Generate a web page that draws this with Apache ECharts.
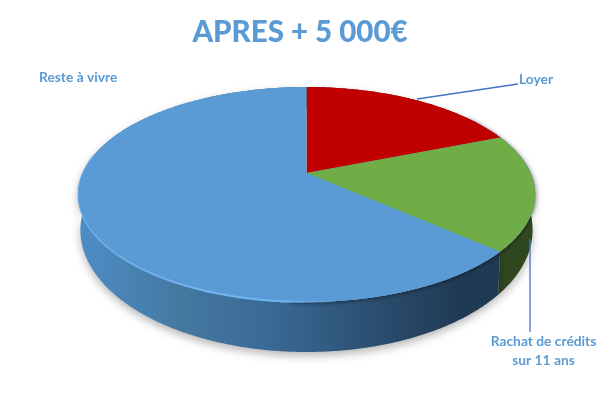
<!DOCTYPE html>
<html><head><meta charset="utf-8">
<style>html,body{margin:0;padding:0;background:#fff}#c{width:600px;height:400px}</style>
<script src="https://cdn.jsdelivr.net/npm/echarts@6/dist/echarts.min.js"></script>
</head><body><div id="c"></div>
<script>
const categories = ['Loyer', 'Rachat de crédits\nsur 11 ans', 'Reste à vivre'];
const values = [19, 17.5, 63.5];
const topColors = ['#c00000', '#70ad47', '#5b9bd5'];
const titleText = 'APRES + 5 000€';

const LG = echarts.graphic.LinearGradient;
const wallFills = [
  '#7a0000',
  new LG(430, 0, 535, 0, [{offset:0,color:'#2b4220'},{offset:1,color:'#30481f'}], true),
  new LG(78, 0, 500, 0, [
    {offset:0,color:'#4e8dc6'},{offset:0.25,color:'#44789f'},{offset:0.45,color:'#3a6a96'},
    {offset:0.72,color:'#2a4d6e'},{offset:0.9,color:'#203a54'},{offset:1,color:'#203a54'}], true)
];
const labelLayout = [
  {x:519, y:80, align:'left', line:[[417,99],[518,84]]},
  {x:543.5, y:351, align:'center', line:[[530,239],[530,332]]},
  {x:39, y:78, align:'left', line:null}
];
const total = values.reduce((a,b)=>a+b,0);
function topPoint(t){
  const x=Math.sin(t), y=-Math.cos(t), d=1-0.2*y;
  return [306.5+224*x/d, (173+68.6*y)/d];
}
function basePoint(t){
  const p=topPoint(t);
  return [306.5+226*(p[0]-306.5)/228.5, 230+122*(p[1]-194.5)/107.5];
}
function arc(fn,a0,a1){
  const pts=[], n=Math.max(2,Math.ceil(Math.abs(a1-a0)/0.01));
  for(let i=0;i<=n;i++) pts.push(fn(a0+(a1-a0)*i/n));
  return pts;
}
function range(i){
  let s=0; for(let j=0;j<i;j++) s+=values[j];
  return [s/total*2*Math.PI,(s+values[i])/total*2*Math.PI];
}
const idx = values.map((v,i)=>[v,i]);
const chart = echarts.init(document.getElementById('c'),null,{renderer:'canvas'});
chart.setOption({
  animation:false,
  backgroundColor:'#fff',
  title:{text:titleText,left:295,top:12,textAlign:'center',
    textStyle:{fontFamily:'Lato',fontWeight:900,fontSize:29.5,color:'#5b9bd5'}},
  series:[
    {type:'custom',coordinateSystem:'none',silent:true,z:1,data:idx,
     renderItem(p,api){
       const r=range(p.dataIndex);
       const pts=arc(topPoint,r[0],r[1]).concat(arc(basePoint,r[1],r[0]));
       return {type:'polygon',shape:{points:pts},
         style:{fill:wallFills[p.dataIndex],shadowBlur:9,shadowColor:'rgba(0,0,0,0.28)',shadowOffsetY:4}};
     }},
    {type:'custom',coordinateSystem:'none',silent:true,z:2,data:[total],
     renderItem(){
       return {type:'polygon',shape:{points:[[306.5,173]].concat(arc(topPoint,Math.PI*0.3,Math.PI*1.02))},
         style:{fill:'#5b9bd5',shadowBlur:4,shadowColor:'rgba(0,0,0,0.55)',shadowOffsetY:1}};
     }},
    {type:'custom',coordinateSystem:'none',silent:true,z:3,data:idx,
     renderItem(p,api){
       const i=p.dataIndex, r=range(i);
       const pts=[[306.5,173]].concat(arc(topPoint,r[0],r[1]));
       const children=[{type:'polygon',shape:{points:pts},style:{fill:topColors[i]}}];
       if(i===2){
         children.push({type:'polyline',
           shape:{points:arc(topPoint,Math.PI*0.92,Math.PI*1.56)},
           style:{fill:null,lineWidth:2,
             stroke:new LG(78,0,340,0,[
               {offset:0,color:'rgba(125,190,245,0.25)'},{offset:0.5,color:'rgba(115,185,245,0.95)'},
               {offset:0.8,color:'rgba(115,185,245,0.85)'},{offset:1,color:'rgba(115,185,245,0)'}],true)}});
       }
       return {type:'group',children};
     }},
    {type:'custom',coordinateSystem:'none',silent:true,z:4,data:idx,
     renderItem(p,api){
       const i=p.dataIndex, l=labelLayout[i], children=[];
       if(l.line) children.push({type:'polyline',shape:{points:l.line},
         style:{fill:null,stroke:'#4472c4',lineWidth:1.3}});
       children.push({type:'text',style:{x:l.x,y:l.y,text:categories[i],align:l.align,verticalAlign:'middle',
         fontFamily:'Lato',fontWeight:700,fontSize:13.8,lineHeight:19,fill:'#5b9bd5'}});
       return {type:'group',children};
     }}
  ]
});
</script></body></html>
